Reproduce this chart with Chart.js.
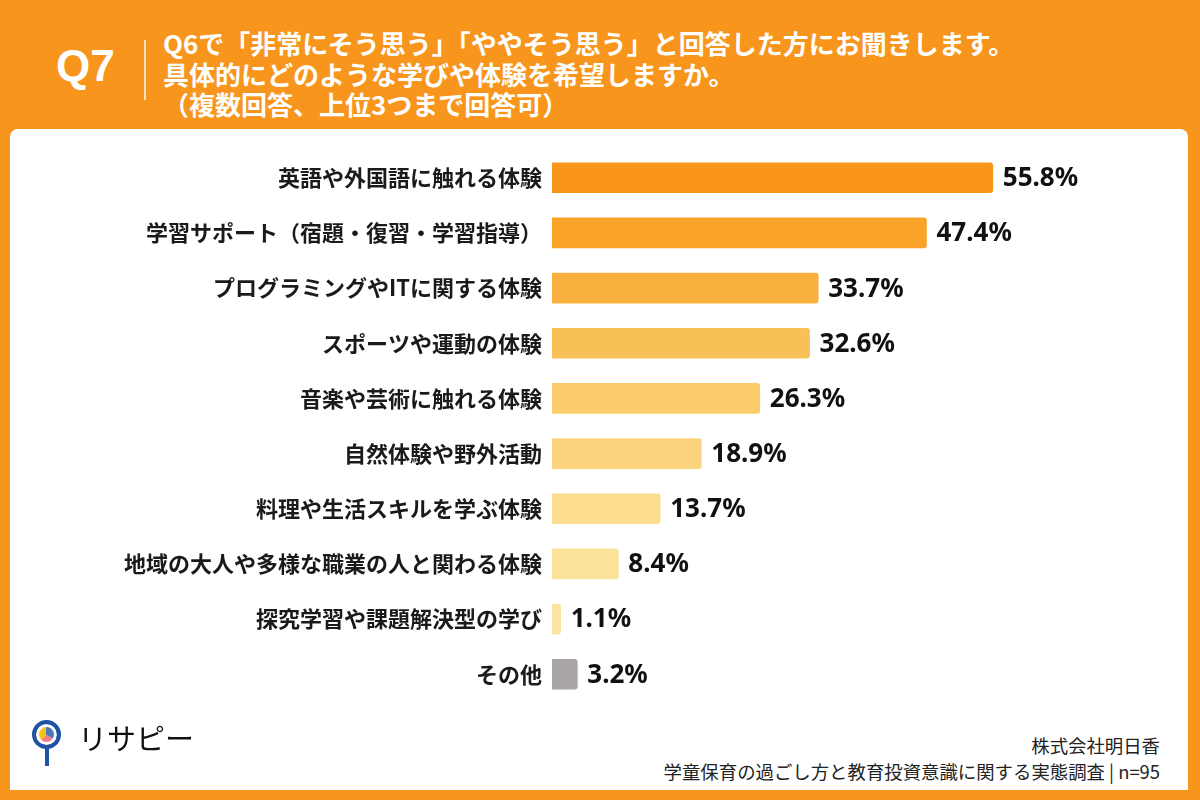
<!DOCTYPE html>
<html lang="ja">
<head>
<meta charset="utf-8">
<script src="https://cdn.jsdelivr.net/npm/chart.js@4.4.1/dist/chart.umd.min.js"></script>
<style>
  html, body { margin: 0; padding: 0; }
  body {
    width: 1200px; height: 800px; position: relative; overflow: hidden;
    background: #F8951D;
    font-family: "Noto Sans CJK JP", "Noto Sans", sans-serif;
  }
  .panel {
    position: absolute; left: 10px; top: 129px; width: 1178px; height: 661px;
    background: #fff; border-radius: 8px 8px 0 0;
  }
  .q {
    position: absolute; left: 56px; top: 41px; color: #fff;
    font: bold 44px "Liberation Sans", sans-serif;
  }
  .bar-sep { position: absolute; left: 144px; top: 40px; width: 2px; height: 60px; background: #fde3bf; }
  .title {
    position: absolute; left: 163px; top: 28px; color: #fff;
    font-weight: bold; font-size: 26px; line-height: 30.5px; white-space: nowrap;
  }
  .chart-box { position: absolute; left: 0; top: 127px; width: 1200px; height: 598px; }
  .logo { position: absolute; left: 30px; top: 716px; height: 56px; }
  .pin {
    position: absolute; left: 2px; top: 4px; width: 21px; height: 21px;
    border: 4px solid #1D54A6; border-radius: 50%;
    background: conic-gradient(#4a78b8 0 120deg, #f27b8a 120deg 220deg, #f6c21a 220deg 360deg);
    box-shadow: inset 0 0 0 3px #fff;
  }
  .stem { position: absolute; left: 15px; top: 32px; width: 4px; height: 18px; background: #1D54A6; }
  .logo-text { position: absolute; left: 48px; top: 0px; font-size: 29px; color: #111; white-space: nowrap; }
  .credit {
    position: absolute; right: 40px; top: 732px; text-align: right; color: #222;
    font-size: 18.4px; line-height: 26px; white-space: nowrap;
  }
</style>
</head>
<body>
<div class="panel"></div>
<div class="q">Q7</div>
<div class="bar-sep"></div>
<div class="title">Q6で「非常にそう思う」「ややそう思う」と回答した方にお聞きします。<br>具体的にどのような学びや体験を希望しますか。<br>（複数回答、上位3つまで回答可）</div>
<div class="chart-box"><canvas id="myChart"></canvas></div>
<div class="logo"><div class="pin"></div><div class="stem"></div><div class="logo-text">リサピー</div></div>
<div class="credit">株式会社明日香<br>学童保育の過ごし方と教育投資意識に関する実態調査 | n=95</div>

<script>
const categories = [
  "英語や外国語に触れる体験",
  "学習サポート（宿題・復習・学習指導）",
  "プログラミングやITに関する体験",
  "スポーツや運動の体験",
  "音楽や芸術に触れる体験",
  "自然体験や野外活動",
  "料理や生活スキルを学ぶ体験",
  "地域の大人や多様な職業の人と関わる体験",
  "探究学習や課題解決型の学び",
  "その他",
]
const values = [55.8, 47.4, 33.7, 32.6, 26.3, 18.9, 13.7, 8.4, 1.1, 3.2]
const barColors = [
  "#F8951A", "#F9A328", "#F9B03F", "#FAC058", "#FBCB6C",
  "#FCD47E", "#FCDD90", "#FCE199", "#FCE39F", "#A8A4A7",
]

const ctx = document.querySelector("#myChart")

const valueLabels = {
  id: "valueLabels",
  afterDatasetsDraw(chart) {
    const c = chart.ctx
    const meta = chart.getDatasetMeta(0)
    c.save()
    c.fillStyle = "#111"
    c.font = "bold 26px 'Noto Sans', sans-serif"
    c.textBaseline = "middle"
    meta.data.forEach((bar, i) => {
      c.fillText(values[i].toFixed(1) + "%", bar.x + 10, bar.y + 1)
    })
    c.restore()
  },
}

new Chart(ctx, {
  type: "bar",
  data: {
    labels: categories,
    datasets: [
      {
        data: values,
        backgroundColor: barColors,
        borderRadius: 3,
        borderSkipped: "left",
        barThickness: 30,
      },
    ],
  },
  options: {
    indexAxis: "y",
    responsive: true,
    maintainAspectRatio: false,
    animation: false,
    layout: { padding: { left: 0, right: 95, top: 0, bottom: 0 } },
    plugins: { legend: { display: false }, tooltip: { enabled: false } },
    scales: {
      x: { display: false, min: 0, max: 70 },
      y: {
        grid: { display: false, drawTicks: false },
        border: { display: false },
        ticks: {
          color: "#1a1a1a",
          padding: 10,
          font: { family: "'Noto Sans CJK JP'", size: 22, weight: "bold" },
        },
        afterFit(scale) {
          scale.width = 552
        },
      },
    },
  },
  plugins: [valueLabels],
})
</script>
</body>
</html>
